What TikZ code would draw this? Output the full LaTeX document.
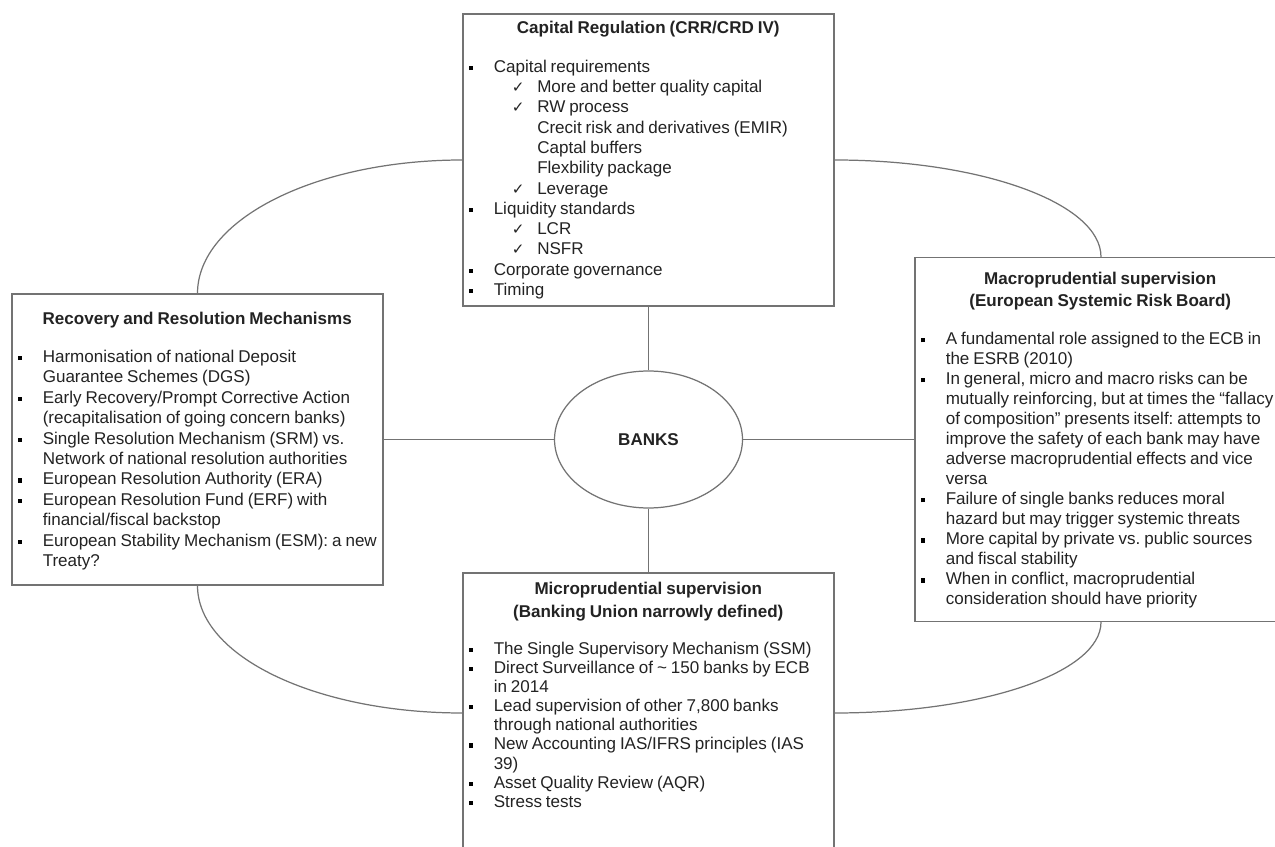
\documentclass[tikz,border=0pt]{standalone}
\usepackage{fontspec}
\setmainfont{Liberation Sans}
\newfontfamily\symf{DejaVu Sans}
\usetikzlibrary{positioning,shapes.geometric}

\definecolor{linegray}{RGB}{115,115,115}
\definecolor{textgray}{RGB}{35,35,35}

% list lines: bullet, continuation, tick, sub-line
\newcommand\sqbul{\textcolor{black}{\rule[1.3pt]{2.4pt}{2.4pt}}}
\newcommand\ckmark{{\symf\fontsize{8.6}{8.6}\selectfont ✓}}
\newcommand\bitem[1]{\par\noindent\mbox{\makebox[0.5cm][l]{\sqbul}#1}}
\newcommand\bcont[1]{\par\noindent\mbox{\hspace*{0.5cm}#1}}
\newcommand\citem[1]{\par\noindent\mbox{\hspace*{0.86cm}\makebox[0.51cm][l]{\ckmark}#1}}
\newcommand\csub[1]{\par\noindent\mbox{\hspace*{1.37cm}#1}}
\newcommand\btitle[1]{{\centering\bfseries\rule{0pt}{10pt}#1\par}}

\begin{document}
\begin{tikzpicture}[
  x=0.02cm, y=-0.02cm,
  box/.style={draw=linegray, line width=0.7pt, fill=white, inner sep=0pt},
  txt/.style={inner sep=0pt, text width=7.18cm, text=textgray,
    execute at begin node={\frenchspacing\spaceskip=0.23em}},
  link/.style={draw=linegray, line width=0.7pt}
]
\clip (0,0) rectangle (1275,847);

% the four boxes and the centre
\node[box, minimum width=7.42cm, minimum height=5.84cm] (cap) at (648.5,160) {};
\node[box, minimum width=7.42cm, minimum height=5.82cm] (rec) at (197.5,439.5) {};
\node[box, minimum width=7.44cm, minimum height=7.28cm] (mac) at (1101,439.5) {};
\node[box, minimum width=7.42cm, minimum height=5.6cm] (mic) at (648.5,713) {};
\node[box, ellipse, minimum width=3.76cm, minimum height=2.74cm,
  font=\bfseries\fontsize{9.7}{11.5}\selectfont, text=textgray] (banks) at (648.5,439.5) {BANKS};

% outer ring
\draw[link] (cap.west) .. controls +(-146.6,0) and +(0,-74) .. (rec.north);
\draw[link] (cap.east) .. controls +(147.5,0) and +(0,-53.6) .. (mac.north);
\draw[link] (rec.south) .. controls +(0,70.7) and +(-146.6,0) .. (mic.west);
\draw[link] (mac.south) .. controls +(0,50.8) and +(147.5,0) .. (mic.east);

% spokes
\draw[link] (cap.south) -- (banks.north);
\draw[link] (rec.east) -- (banks.west);
\draw[link] (banks.east) -- (mac.west);
\draw[link] (banks.south) -- (mic.north);

% box texts
\node[txt, font=\fontsize{9.7}{11.54}\selectfont,
  below right=0.05cm and 0.12cm of cap.north west] (captxt) {%
\btitle{Capital Regulation (CRR/CRD IV)}
\vspace{10.4pt}
\bitem{Capital requirements}
\citem{More and better quality capital}
\citem{RW process}
\csub{Crecit risk and derivatives (EMIR)}
\csub{Captal buffers}
\csub{Flexbility package}
\citem{Leverage}
\bitem{Liquidity standards}
\citem{LCR}
\citem{NSFR}
\bitem{Corporate governance}
\bitem{Timing}};

\node[txt, font=\fontsize{9.7}{11.62}\selectfont,
  below right=0.256cm and 0.12cm of rec.north west] (rectxt) {%
\btitle{Recovery and Resolution Mechanisms}
\vspace{10.15pt}
\bitem{Harmonisation of national Deposit}
\bcont{Guarantee Schemes (DGS)}
\bitem{Early Recovery/Prompt Corrective Action}
\bcont{(recapitalisation of going concern banks)}
\bitem{Single Resolution Mechanism (SRM) vs.}
\bcont{Network of national resolution authorities}
\bitem{European Resolution Authority (ERA)}
\bitem{European Resolution Fund (ERF) with}
\bcont{financial/fiscal backstop}
\bitem{European Stability Mechanism (ESM): a new}
\bcont{Treaty?}};

\node[txt, font=\fontsize{9.7}{11.39}\selectfont,
  below right=0.196cm and 0.12cm of mac.north west] (mactxt) {%
\btitle{Macroprudential supervision\\[1pt](European Systemic Risk Board)}
\vspace{10.4pt}
\bitem{A fundamental role assigned to the ECB in}
\bcont{the ESRB (2010)}
\bitem{In general, micro and macro risks can be}
\bcont{mutually reinforcing, but at times the “fallacy}
\bcont{of composition” presents itself: attempts to}
\bcont{improve the safety of each bank may have}
\bcont{adverse macroprudential effects and vice}
\bcont{versa}
\bitem{Failure of single banks reduces moral}
\bcont{hazard but may trigger systemic threats}
\bitem{More capital by private vs. public sources}
\bcont{and fiscal stability}
\bitem{When in conflict, macroprudential}
\bcont{consideration should have priority}};

\node[txt, font=\fontsize{9.7}{10.91}\selectfont,
  below right=0.076cm and 0.12cm of mic.north west] (mictxt) {%
\btitle{Microprudential supervision\\[2.4pt](Banking Union narrowly defined)}
\vspace{9.9pt}
\bitem{The Single Supervisory Mechanism (SSM)}
\bitem{Direct Surveillance of \textasciitilde{} 150 banks by ECB}
\bcont{in 2014}
\bitem{Lead supervision of other 7,800 banks}
\bcont{through national authorities}
\bitem{New Accounting IAS/IFRS principles (IAS}
\bcont{39)}
\bitem{Asset Quality Review (AQR)}
\bitem{Stress tests}};
\end{tikzpicture}
\end{document}
